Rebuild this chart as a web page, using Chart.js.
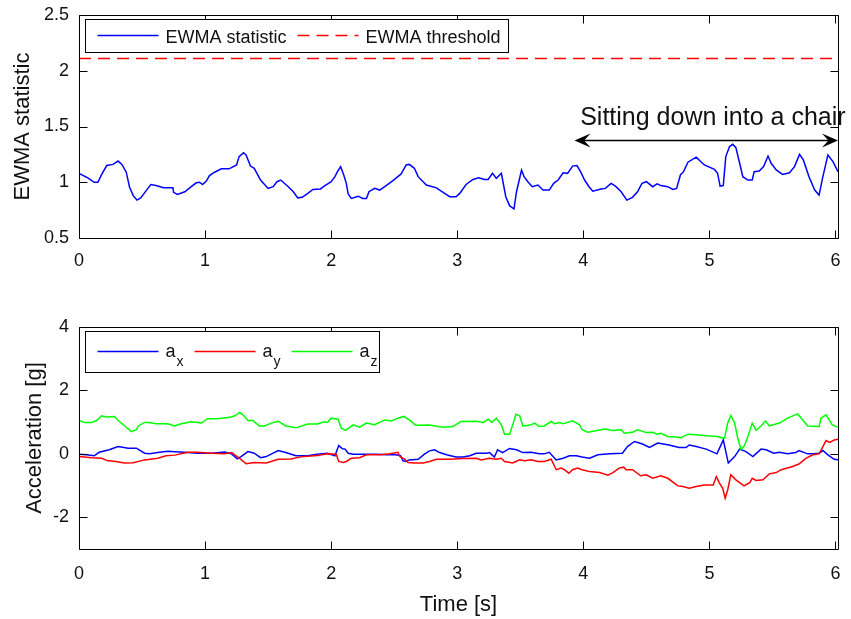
<!DOCTYPE html>
<html><head><meta charset="utf-8">
<script src="https://cdn.jsdelivr.net/npm/chart.js@4.4.1/dist/chart.umd.min.js"></script>
<style>
html,body{margin:0;padding:0;background:#fff;}
#wrap{position:relative;width:851px;height:619px;overflow:hidden;}
canvas{position:absolute;left:0;}
</style></head><body>
<div id="wrap">
<canvas id="c1" width="851" height="300" style="top:0px"></canvas>
<canvas id="c2" width="851" height="319" style="top:300px"></canvas>
</div>
<script>
// ---------- data ----------
const ewmaTime = [0,0.07,0.12,0.15,0.18,0.22,0.27,0.31,0.34,0.375,0.40,0.43,0.46,0.49,0.53,0.57,0.61,0.67,0.745,0.75,0.78,0.84,0.89,0.93,0.956,0.98,1.01,1.035,1.075,1.13,1.19,1.25,1.27,1.305,1.325,1.36,1.39,1.44,1.50,1.54,1.57,1.60,1.66,1.70,1.735,1.77,1.815,1.855,1.915,1.945,2.0,2.03,2.05,2.075,2.10,2.12,2.135,2.16,2.215,2.25,2.28,2.30,2.345,2.385,2.425,2.49,2.555,2.595,2.62,2.66,2.69,2.755,2.835,2.90,2.94,2.99,3.02,3.07,3.125,3.17,3.215,3.245,3.28,3.31,3.35,3.385,3.415,3.45,3.47,3.51,3.53,3.56,3.595,3.64,3.68,3.73,3.765,3.80,3.84,3.875,3.915,3.95,3.98,4.01,4.045,4.075,4.14,4.175,4.22,4.255,4.30,4.345,4.39,4.43,4.465,4.50,4.55,4.585,4.615,4.67,4.71,4.74,4.77,4.795,4.83,4.895,4.96,5.04,5.065,5.085,5.11,5.13,5.16,5.185,5.21,5.24,5.265,5.305,5.34,5.355,5.395,5.43,5.465,5.49,5.53,5.58,5.635,5.675,5.715,5.745,5.79,5.835,5.87,5.90,5.94,5.98,6.02];
const ewmaValues = [1.08,1.04,1.0,1.0,1.07,1.15,1.16,1.19,1.16,1.09,0.96,0.88,0.84,0.86,0.92,0.98,0.97,0.95,0.95,0.91,0.89,0.915,0.96,0.995,1.0,0.98,1.01,1.06,1.09,1.12,1.12,1.155,1.23,1.265,1.245,1.145,1.125,1.02,0.945,0.96,1.005,1.02,0.96,0.915,0.86,0.865,0.9,0.935,0.94,0.965,1.005,1.05,1.095,1.14,1.065,0.99,0.895,0.855,0.875,0.855,0.855,0.915,0.945,0.93,0.96,1.015,1.075,1.155,1.16,1.125,1.05,0.975,0.95,0.9,0.87,0.87,0.9,0.98,1.025,1.04,1.025,1.025,1.08,1.035,1.08,0.87,0.79,0.76,0.915,1.11,1.05,1.005,0.96,0.975,0.93,0.93,0.99,1.02,1.085,1.08,1.145,1.15,1.09,1.02,0.96,0.92,0.94,0.945,0.99,0.965,0.915,0.84,0.865,0.915,0.99,1.005,0.96,0.985,0.97,0.96,0.935,0.945,1.065,1.095,1.18,1.225,1.155,1.115,1.08,0.965,0.97,1.23,1.32,1.34,1.31,1.17,1.05,1.02,1.02,1.095,1.1,1.14,1.235,1.17,1.11,1.07,1.085,1.14,1.25,1.2,1.05,0.93,0.885,1.05,1.245,1.185,1.095];
const thresholdTime = [0, 6.02];
const thresholdValues = [2.11, 2.11];

const axTime = [0,0.06,0.12,0.16,0.24,0.31,0.39,0.455,0.52,0.56,0.625,0.705,0.76,0.84,0.94,1.05,1.155,1.21,1.255,1.285,1.34,1.39,1.44,1.485,1.58,1.64,1.72,1.815,1.89,1.97,2.03,2.06,2.09,2.11,2.135,2.175,2.28,2.36,2.44,2.515,2.55,2.57,2.595,2.62,2.69,2.74,2.78,2.82,2.86,2.915,2.99,3.045,3.10,3.15,3.23,3.255,3.295,3.32,3.36,3.415,3.47,3.52,3.585,3.65,3.69,3.73,3.785,3.84,3.89,3.945,3.99,4.05,4.115,4.21,4.31,4.35,4.405,4.47,4.525,4.59,4.68,4.76,4.815,4.84,4.895,4.975,5.06,5.11,5.15,5.20,5.24,5.29,5.345,5.41,5.45,5.51,5.555,5.62,5.685,5.71,5.78,5.82,5.87,5.90,5.94,5.99,6.02];
const axValues = [-0.01,-0.03,-0.06,0.05,0.13,0.23,0.18,0.18,0.02,0.0,0.04,0.085,0.07,0.05,0.02,0.02,0.06,0.0,-0.16,-0.085,0.07,0.02,-0.12,-0.085,0.105,0.04,-0.06,-0.06,-0.01,0.02,-0.06,0.26,0.16,0.15,0.02,-0.01,-0.01,-0.01,-0.03,-0.03,-0.06,-0.22,-0.24,-0.19,-0.17,-0.01,0.095,0.13,0.04,-0.03,-0.10,-0.10,-0.06,0.02,0.02,0.04,-0.10,0.13,0.04,0.17,0.13,0.04,0.05,0.0,0.0,0.05,-0.19,-0.14,-0.06,-0.06,-0.10,-0.14,-0.03,0.0,0.02,0.23,0.39,0.31,0.20,0.34,0.28,0.20,0.20,0.28,0.23,0.15,0.0,0.44,-0.29,-0.085,0.15,0.07,-0.085,0.15,0.13,0.02,0.05,0.0,0.04,0.105,0.0,0.0,0.02,0.105,-0.03,-0.17,-0.19];

const ayTime = [0,0.10,0.18,0.23,0.28,0.36,0.43,0.52,0.625,0.69,0.76,0.865,0.94,1.05,1.155,1.21,1.26,1.325,1.39,1.485,1.58,1.68,1.76,1.89,1.97,2.04,2.06,2.095,2.12,2.16,2.225,2.28,2.385,2.465,2.53,2.545,2.585,2.61,2.66,2.73,2.78,2.835,2.94,3.045,3.15,3.19,3.255,3.31,3.35,3.375,3.44,3.495,3.535,3.585,3.64,3.69,3.745,3.785,3.825,3.85,3.885,3.915,3.955,3.99,4.05,4.13,4.195,4.235,4.285,4.32,4.34,4.39,4.455,4.50,4.55,4.615,4.67,4.75,4.79,4.84,4.895,4.96,5.03,5.055,5.08,5.105,5.125,5.145,5.17,5.21,5.275,5.32,5.34,5.37,5.425,5.475,5.53,5.57,5.66,5.71,5.765,5.82,5.87,5.90,5.925,5.955,5.99,6.02];
const ayValues = [-0.085,-0.12,-0.14,-0.22,-0.23,-0.29,-0.28,-0.19,-0.14,-0.06,-0.04,0.05,0.05,0.02,0.0,0.04,-0.10,-0.31,-0.27,-0.29,-0.17,-0.16,-0.095,-0.05,0.0,-0.01,-0.24,-0.27,-0.24,-0.14,-0.12,-0.03,-0.03,0.0,0.05,-0.085,-0.17,-0.27,-0.29,-0.29,-0.24,-0.17,-0.17,-0.15,-0.14,-0.19,-0.14,-0.17,-0.14,-0.24,-0.29,-0.19,-0.22,-0.19,-0.24,-0.24,-0.17,-0.50,-0.45,-0.50,-0.61,-0.50,-0.45,-0.50,-0.56,-0.59,-0.67,-0.59,-0.45,-0.42,-0.50,-0.50,-0.69,-0.66,-0.77,-0.69,-0.77,-1.01,-1.03,-1.08,-1.03,-0.98,-0.98,-0.72,-0.92,-1.08,-1.40,-1.14,-0.66,-0.82,-1.01,-0.91,-0.77,-0.84,-0.82,-0.63,-0.59,-0.50,-0.40,-0.32,-0.14,-0.03,0.0,0.23,0.42,0.36,0.44,0.46];

const azTime = [0,0.045,0.10,0.14,0.18,0.215,0.28,0.32,0.375,0.415,0.455,0.47,0.52,0.56,0.61,0.705,0.76,0.81,0.89,0.97,1.02,1.10,1.21,1.235,1.275,1.30,1.34,1.38,1.43,1.47,1.525,1.58,1.64,1.72,1.815,1.89,1.945,1.97,2.0,2.055,2.08,2.115,2.175,2.225,2.28,2.345,2.425,2.48,2.53,2.575,2.62,2.67,2.78,2.885,2.965,3.03,3.15,3.205,3.245,3.275,3.31,3.35,3.375,3.415,3.44,3.465,3.495,3.52,3.575,3.615,3.65,3.69,3.745,3.77,3.81,3.84,3.915,3.97,3.99,4.035,4.10,4.17,4.235,4.30,4.325,4.39,4.43,4.50,4.55,4.585,4.615,4.67,4.735,4.775,4.83,4.895,4.975,5.06,5.12,5.145,5.17,5.20,5.225,5.25,5.275,5.30,5.34,5.37,5.41,5.445,5.475,5.555,5.62,5.70,5.74,5.78,5.87,5.885,5.925,5.975,6.02];
const azValues = [1.05,0.99,0.99,1.05,1.2,1.16,1.18,1.02,0.84,0.70,0.76,0.88,0.99,0.99,0.95,0.95,0.88,0.95,1.01,0.97,1.11,1.11,1.16,1.2,1.31,1.23,1.05,1.05,0.88,0.88,0.97,1.03,0.88,0.82,0.94,0.94,1.01,0.99,1.125,1.09,0.81,0.74,0.915,0.84,0.97,0.92,1.07,1.04,1.125,1.18,1.07,0.90,0.91,0.84,0.86,1.02,1.03,0.99,1.09,0.99,1.125,0.915,0.62,0.62,0.915,1.25,1.2,0.88,0.90,0.97,0.86,0.88,1.02,0.95,0.99,0.95,1.04,0.915,0.76,0.68,0.73,0.78,0.74,0.76,0.65,0.68,0.76,0.67,0.68,0.62,0.65,0.55,0.53,0.51,0.62,0.60,0.57,0.55,0.49,0.97,1.21,0.97,0.49,0.15,0.23,0.49,0.97,0.74,0.88,1.04,0.88,0.97,1.125,1.26,1.07,0.88,0.86,1.125,1.23,0.915,0.84];

const timeTicks = [0,1,2,3,4,5,6];
const ewmaTicks = [0.5,1,1.5,2,2.5];
const accTicks = [-2,0,2,4];

const annotationText = 'Sitting down into a chair';
const arrowFrom = 3.93, arrowTo = 6.02, arrowLevel = 1.383;
const annotationTextTime = 3.975, annotationTextLevel = 1.513;

// ---------- helpers ----------
const FONT = "'Liberation Sans', Arial, Helvetica, sans-serif";
const TXT = '#111';
const pts = (t, v) => t.map((x, i) => ({x: x, y: v[i]}));

const framePlugin = {
  id: 'frame',
  afterDatasetsDraw(chart) {
    const {ctx, chartArea: a, scales: {x, y}} = chart;
    ctx.save();
    ctx.strokeStyle = '#000';
    ctx.lineWidth = 1;
    const L = Math.round(a.left) + 0.5, R = Math.round(a.right) + 0.5;
    const T = Math.round(a.top) + 0.5, B = Math.round(a.bottom) + 0.5;
    const tl = 8;
    ctx.beginPath();
    ctx.rect(L, T, R - L, B - T);
    x.ticks.forEach(t => {
      const p = Math.round(x.getPixelForValue(t.value)) + 0.5;
      ctx.moveTo(p, B); ctx.lineTo(p, B - tl);
      ctx.moveTo(p, T); ctx.lineTo(p, T + tl);
    });
    y.ticks.forEach(t => {
      const p = Math.round(y.getPixelForValue(t.value)) + 0.5;
      ctx.moveTo(L, p); ctx.lineTo(L + tl, p);
      ctx.moveTo(R, p); ctx.lineTo(R - tl, p);
    });
    ctx.stroke();
    ctx.restore();
  }
};

function drawArrowHead(ctx, tipX, y, dir) {
  const L = 16, W = 7;
  ctx.beginPath();
  ctx.moveTo(tipX, y);
  ctx.lineTo(tipX + dir * L, y - W);
  ctx.lineTo(tipX + dir * L * 0.6, y);
  ctx.lineTo(tipX + dir * L, y + W);
  ctx.closePath();
  ctx.fill();
}

const annotationPlugin = {
  id: 'annot',
  afterDatasetsDraw(chart) {
    const {ctx, scales: {x, y}} = chart;
    const x0 = x.getPixelForValue(arrowFrom), x1 = x.getPixelForValue(arrowTo);
    const yy = Math.round(y.getPixelForValue(arrowLevel)) + 0.5;
    ctx.save();
    ctx.strokeStyle = '#000'; ctx.fillStyle = '#000'; ctx.lineWidth = 1.5;
    ctx.beginPath(); ctx.moveTo(x0 + 6, yy); ctx.lineTo(x1 - 6, yy); ctx.stroke();
    drawArrowHead(ctx, x0, yy, 1);
    drawArrowHead(ctx, x1, yy, -1);
    ctx.font = '25px ' + FONT;
    ctx.fillStyle = TXT;
    ctx.textBaseline = 'alphabetic'; ctx.textAlign = 'left';
    ctx.fillText(annotationText, x.getPixelForValue(annotationTextTime), y.getPixelForValue(annotationTextLevel));
    ctx.restore();
  }
};

function legendPlugin(items, boxW, boxH, subscripts) {
  return {
    id: 'legendBox',
    afterDraw(chart) {
      const {ctx, chartArea: a} = chart;
      const bx = Math.round(a.left) + 6.5, by = Math.round(a.top) + 4.5;
      ctx.save();
      ctx.fillStyle = '#fff';
      ctx.fillRect(bx, by, boxW, boxH);
      ctx.strokeStyle = '#000'; ctx.lineWidth = 1;
      ctx.strokeRect(bx, by, boxW, boxH);
      const ly = subscripts ? by + 20 : by + 16;
      let cx = bx + 12;
      items.forEach(ds => {
        ctx.strokeStyle = ds.borderColor;
        ctx.lineWidth = 1.5;
        ctx.setLineDash(ds.borderDash || []);
        ctx.beginPath(); ctx.moveTo(cx, ly); ctx.lineTo(cx + 61, ly); ctx.stroke();
        ctx.setLineDash([]);
        cx += 61 + 7;
        ctx.fillStyle = TXT;
        ctx.textBaseline = 'alphabetic'; ctx.textAlign = 'left';
        if (subscripts) {
          const [base, sub] = ds.label.split('_');
          ctx.font = '18px ' + FONT;
          ctx.fillText(base, cx, ly + 5);
          cx += ctx.measureText(base).width + 1;
          ctx.font = '14px ' + FONT;
          ctx.fillText(sub, cx, ly + 14);
          cx += ctx.measureText(sub).width + 11;
        } else {
          ctx.font = '18px ' + FONT;
          ctx.fillText(ds.label, cx, ly + 7);
          cx += ctx.measureText(ds.label).width + 11;
        }
      });
      ctx.restore();
    }
  };
}

function scalesFor(yMin, yMax, yTicks, yTitle, yTitlePad, xTitle, xHeight, xPad) {
  return {
    x: {
      type: 'linear', position: 'bottom', min: 0, max: 6.02,
      afterBuildTicks: s => { s.ticks = timeTicks.map(v => ({value: v})); },
      afterFit: s => { s.height = xHeight; s.paddingLeft = 0; s.paddingRight = 0; },
      grid: {display: false, drawTicks: false},
      border: {display: false},
      ticks: {padding: xPad, color: TXT, font: {family: FONT, size: 18}, maxRotation: 0, autoSkip: false, callback: v => String(v)},
      title: xTitle ? {display: true, text: xTitle, color: TXT, font: {family: FONT, size: 22}, padding: {top: 0, bottom: 1}} : {display: false}
    },
    y: {
      type: 'linear', position: 'left', min: yMin, max: yMax,
      afterBuildTicks: s => { s.ticks = yTicks.map(v => ({value: v})); },
      afterFit: s => { s.width = 79; s.paddingTop = 0; s.paddingBottom = 0; },
      grid: {display: false, drawTicks: false},
      border: {display: false},
      ticks: {padding: 10, color: TXT, font: {family: FONT, size: 18}, autoSkip: false, callback: v => String(v)},
      title: {display: true, text: yTitle, color: TXT, font: {family: FONT, size: 22}, padding: {top: yTitlePad, bottom: 0}}
    }
  };
}

const lineStyle = {showLine: true, pointRadius: 0, borderWidth: 1.5, tension: 0, fill: false};

// ---------- top chart ----------
const topDatasets = [
  Object.assign({label: 'EWMA statistic', data: pts(ewmaTime, ewmaValues), borderColor: '#0000ff', order: 2}, lineStyle),
  Object.assign({label: 'EWMA threshold', data: pts(thresholdTime, thresholdValues), borderColor: '#ff0000', borderDash: [12, 7], order: 1}, lineStyle)
];
new Chart(document.getElementById('c1'), {
  type: 'scatter',
  data: {datasets: topDatasets},
  options: {
    responsive: false, animation: false, devicePixelRatio: 1,
    layout: {padding: {left: 0, right: 13, top: 15, bottom: 0}},
    plugins: {legend: {display: false}, tooltip: {enabled: false}},
    scales: scalesFor(0.5, 2.5, ewmaTicks, 'EWMA statistic', 10, null, 62, 12)
  },
  plugins: [framePlugin, annotationPlugin, legendPlugin(topDatasets, 423, 33, false)]
});

// ---------- bottom chart ----------
const botDatasets = [
  Object.assign({label: 'a_x', data: pts(axTime, axValues), borderColor: '#0000ff', order: 3}, lineStyle),
  Object.assign({label: 'a_y', data: pts(ayTime, ayValues), borderColor: '#ff0000', order: 2}, lineStyle),
  Object.assign({label: 'a_z', data: pts(azTime, azValues), borderColor: '#00ff00', order: 1}, lineStyle)
];
new Chart(document.getElementById('c2'), {
  type: 'scatter',
  data: {datasets: botDatasets},
  options: {
    responsive: false, animation: false, devicePixelRatio: 1,
    layout: {padding: {left: 0, right: 13, top: 27, bottom: 0}},
    plugins: {legend: {display: false}, tooltip: {enabled: false}},
    scales: scalesFor(-3, 4, accTicks, 'Acceleration [g]', 22, 'Time [s]', 70, 14)
  },
  plugins: [framePlugin, legendPlugin(botDatasets, 294, 41, true)]
});
</script>
</body></html>
